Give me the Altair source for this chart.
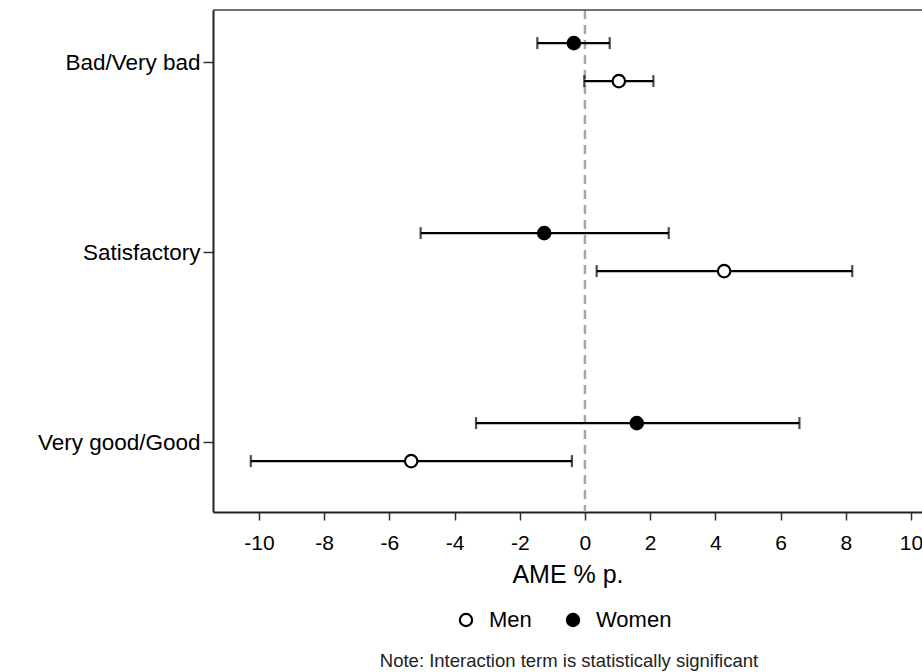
import altair as alt
import pandas as pd

# ---- data ----
categories = ["Bad/Very bad", "Satisfactory", "Very good/Good"]
groups = ["Men", "Women"]

women_ame = [-0.34, -1.25, 1.59]
women_lo = [-1.46, -5.04, -3.34]
women_hi = [0.76, 2.57, 6.58]

men_ame = [1.04, 4.27, -5.33]
men_lo = [-0.02, 0.36, -10.25]
men_hi = [2.10, 8.20, -0.40]

x_ticks = [-10, -8, -6, -4, -2, 0, 2, 4, 6, 8, 10]
note_text = ["Note: Interaction term is statistically significant"]

rows = []
for i, c in enumerate(categories):
    rows.append({"category": c, "cat": i, "group": "Women",
                 "ame": women_ame[i], "lo": women_lo[i], "hi": women_hi[i]})
    rows.append({"category": c, "cat": i, "group": "Men",
                 "ame": men_ame[i], "lo": men_lo[i], "hi": men_hi[i]})
df = pd.DataFrame(rows)

W, H = 709, 502
FONT = "Liberation Sans"

base = alt.Chart(df).transform_calculate(
    pos="(2 - datum.cat) + (datum.group === 'Women' ? 0.1 : -0.1)"
)

xscale = alt.Scale(domain=[-11.41, 10.34], nice=False, zero=False)
yscale = alt.Scale(domain=[-0.368, 2.274], nice=False, zero=False)

x_axis = alt.Axis(values=x_ticks, title="AME % p.", grid=False,
                  labelExpr="toString(datum.value)",
                  tickSize=8, tickWidth=1.5, tickColor="#333333",
                  domainColor="#222222", domainWidth=2,
                  labelFontSize=21, labelFont=FONT, labelColor="black",
                  labelPadding=12, titleFontSize=25, titleFont=FONT,
                  titleFontWeight="normal", titleColor="black", titlePadding=9)
y_axis = alt.Axis(values=[0, 1, 2], title=None, grid=False,
                  labelExpr="datum.value == 2 ? 'Bad/Very bad' : datum.value == 1 ? 'Satisfactory' : 'Very good/Good'",
                  tickSize=10, tickWidth=1.5, tickColor="#333333",
                  domainColor="#222222", domainWidth=2,
                  labelFontSize=22.5, labelFont=FONT, labelColor="black",
                  labelPadding=3)

zero_line = alt.Chart(pd.DataFrame({"z": [0]})).mark_rule(
    color="#a6a6a6", strokeWidth=2.5, strokeDash=[9, 6]
).encode(x=alt.X("z:Q", scale=xscale, axis=x_axis))

bars = base.mark_rule(color="black", strokeWidth=2.2).encode(
    x=alt.X("lo:Q", scale=xscale, axis=x_axis),
    x2="hi:Q",
    y=alt.Y("pos:Q", scale=yscale, axis=y_axis),
)

cap_lo = base.mark_tick(color="black", orient="vertical", size=12, thickness=2.2).encode(
    x=alt.X("lo:Q", scale=xscale), y=alt.Y("pos:Q", scale=yscale))
cap_hi = base.mark_tick(color="black", orient="vertical", size=12, thickness=2.2).encode(
    x=alt.X("hi:Q", scale=xscale), y=alt.Y("pos:Q", scale=yscale))

points = base.mark_point(filled=True, shape="circle", size=155, stroke="black",
                         strokeWidth=2.2, opacity=1).encode(
    x=alt.X("ame:Q", scale=xscale),
    y=alt.Y("pos:Q", scale=yscale),
    fill=alt.Fill("group:N", scale=alt.Scale(domain=groups, range=["white", "black"]),
                  legend=alt.Legend(title=None, orient="none", direction="horizontal",
                                    legendX=242, legendY=599,
                                    symbolType="circle", symbolSize=150,
                                    symbolStrokeColor="black", symbolStrokeWidth=2.2,
                                    labelFontSize=22, labelFont=FONT, labelColor="black",
                                    labelOffset=12, columnPadding=30)),
)

top_border = alt.Chart(pd.DataFrame({"a": [0]})).mark_rule(
    color="#444444", strokeWidth=1.5
).encode(x=alt.value(0), x2=alt.value(W), y=alt.value(0))

note = alt.Chart(pd.DataFrame({"t": note_text})).mark_text(
    font=FONT, fontSize=18.5, color="#222222", align="center", baseline="middle"
).encode(text="t:N", x=alt.value(356), y=alt.value(651))

chart = alt.layer(zero_line, bars, cap_lo, cap_hi, points, top_border, note).properties(
    width=W, height=H,
    autosize=alt.AutoSizeParams(type="none"),
    padding={"left": 213, "top": 10, "right": 0, "bottom": 160},
).configure_view(stroke=None).configure(background="white")

chart.save("out.html", embed_options={"renderer": "svg", "actions": False})
